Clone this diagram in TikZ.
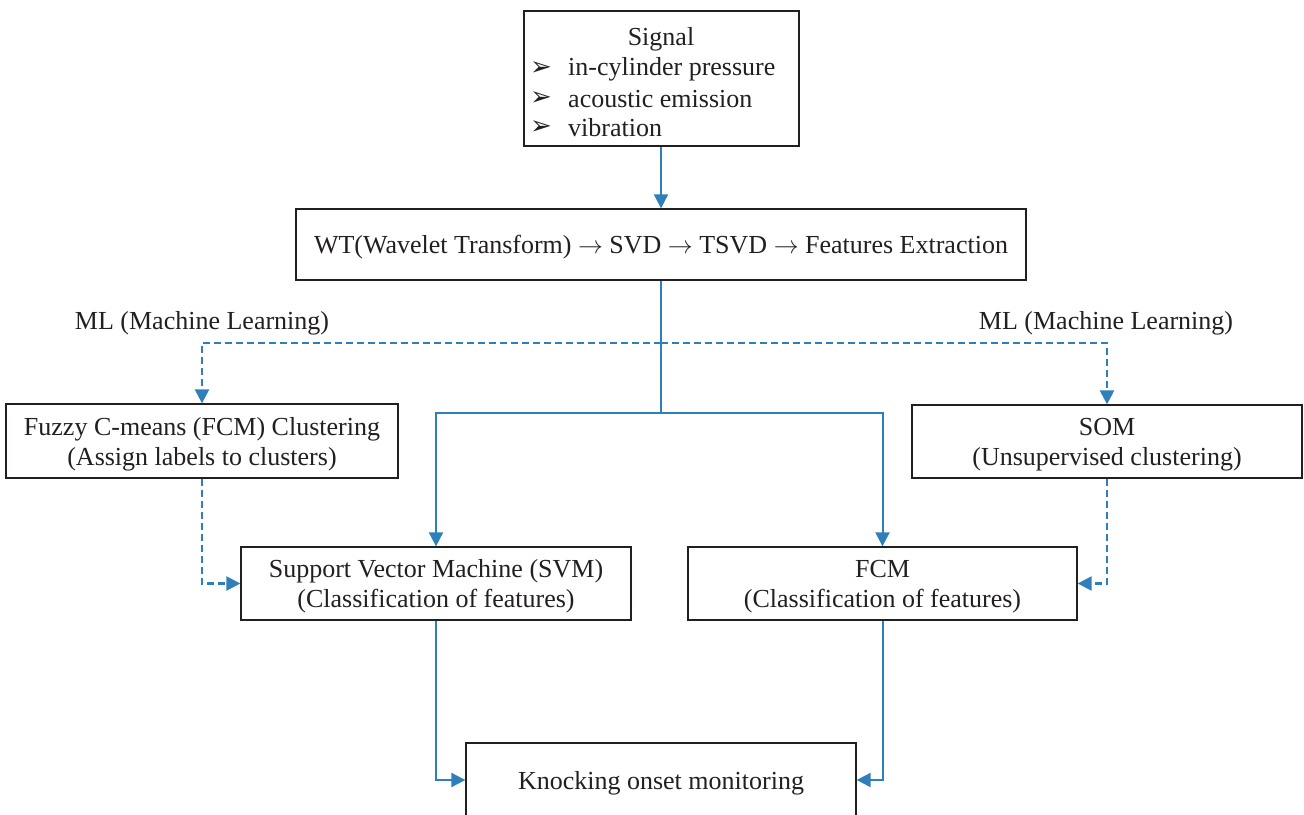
\documentclass[tikz,border=0pt]{standalone}
\usepackage{fontspec}
\setmainfont{Liberation Serif}
\newfontfamily\symfont{DejaVu Sans}
\usetikzlibrary{arrows.meta}
\definecolor{lnblue}{HTML}{2E7FBA}
\definecolor{txt}{HTML}{231F20}
\begin{document}
\begin{tikzpicture}[x=1pt,y=-1pt,
  box/.style={draw=txt,line width=1.3pt,inner sep=0pt},
  lbl/.style={text=txt,inner sep=0pt,align=center,font=\fontsize{26}{30}\selectfont},
  boxtext/.style={label={[lbl,yshift=-3pt]center:{#1}}},
  bul/.style={text=txt,inner sep=0pt,font=\symfont\fontsize{26}{26}\selectfont},
  arr/.style={draw=lnblue,line width=2pt,-{Triangle[length=14pt,width=14pt]}},
  ln/.style={draw=lnblue,line width=2pt},
  darr/.style={arr,line width=2.4pt,dash pattern=on 7pt off 4pt},
  dln/.style={ln,line width=2.4pt,dash pattern=on 7pt off 4pt}]
\useasboundingbox (0,0) rectangle (1304,814);
% boxes
\node[box,minimum width=275pt,minimum height=135pt] (sig) at (661.5,78.5) {};
\node[lbl] (sigt) at (661,39) {Signal};
\node[lbl,anchor=west] (s1) at (568,69) {in-cylinder pressure};
\node[lbl,anchor=west] (s2) at (568,99) {acoustic emission};
\node[lbl,anchor=west] (s3) at (568,128) {vibration};
\node[bul] (b1) at (541,68.5) {➢};
\node[bul] (b2) at (541,98.5) {➢};
\node[bul] (b3) at (541,127.5) {➢};
\node[box,minimum width=730pt,minimum height=71pt,
  boxtext={WT(Wavelet Transform) $\rightarrow$ SVD $\rightarrow$ TSVD $\rightarrow$ Features Extraction}]
  (wt) at (661,244.5) {};
\node[box,minimum width=392pt,minimum height=74pt,
  boxtext={Fuzzy C-means (FCM) Clustering\\(Assign labels to clusters)}]
  (fcmc) at (202,441) {};
\node[box,minimum width=390pt,minimum height=73pt,
  boxtext={SOM\\(Unsupervised clustering)}]
  (som) at (1107,441.5) {};
\node[box,minimum width=390pt,minimum height=73pt,
  boxtext={Support Vector Machine (SVM)\\(Classification of features)}]
  (svm) at (436,583.5) {};
\node[box,minimum width=389pt,minimum height=73pt,
  boxtext={FCM\\(Classification of features)}]
  (fcm) at (882.5,583.5) {};
\node[box,minimum width=390pt,minimum height=74pt,
  boxtext={Knocking onset monitoring}]
  (knock) at (661,780) {};
\node[lbl] (mll) at (202,323) {ML (Machine Learning)};
\node[lbl] (mlr) at (1106,323) {ML (Machine Learning)};
% connectors
\coordinate (j) at (661,413);
\coordinate (d) at (661,343);
\draw[arr] (sig.south -| 661,0) -- (wt.north);
\draw[ln] (wt.south) -- (j);
\draw[arr] (j) -| (svm.north);
\draw[arr] (j) -| (fcm.north);
\draw[dln] (wt.south) -- (d);
\draw[darr] (d) -| (fcmc.north);
\draw[darr] (d) -| (som.north);
\draw[darr] (fcmc.south) |- (svm.west);
\draw[darr] (som.south) |- (fcm.east);
\draw[arr] (svm.south) |- (knock.west);
\draw[arr] (fcm.south) |- (knock.east);
\end{tikzpicture}
\end{document}
